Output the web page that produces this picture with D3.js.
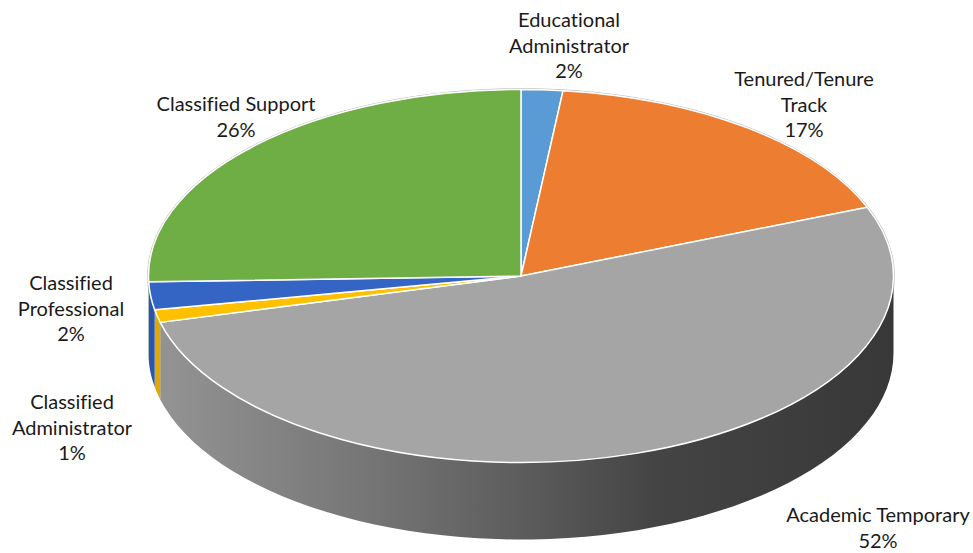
<!DOCTYPE html>
<html>
<head>
<meta charset="utf-8">
<script src="https://cdn.jsdelivr.net/npm/d3@7"></script>
<style>
  html, body { margin: 0; background: #fff; }
  text { font-family: Lato, "Open Sans", sans-serif; font-size: 20px; fill: #1a1a1a; font-variant-ligatures: none; }
</style>
</head>
<body>
<div id="chart"></div>
<script>
// slices, clockwise from 12 o'clock
const categories = ['Educational Administrator', 'Tenured/Tenure Track', 'Academic Temporary',
    'Classified Administrator', 'Classified Professional', 'Classified Support']
const values = [1.8, 17.2, 52, 1.1, 2.4, 25.5]
const percentLabels = ['2%', '17%', '52%', '1%', '2%', '26%']
const colors = ['#5b9bd5', '#ed7d31', '#a5a5a5', '#ffc000', '#3565c4', '#6fad45']
const wallColors = ['#4a85bc', '#c9651f', 'url(#wall-gray)', '#e0a800', '#2a55ad', '#5c9338']

const width = 973
const height = 553
const cx = 521
const cy = 276
const rx = 372.5
const ry = 186.5
const depth = 77

// label lines wrap like the original, anchors are in page pixels
const labelLines = [['Educational', 'Administrator'], ['Tenured/Tenure', 'Track'], ['Academic Temporary'],
    ['Classified', 'Administrator'], ['Classified', 'Professional'], ['Classified Support']]
const labelAnchors = [[569, 20], [804, 79], [878, 515], [72, 402], [71, 283], [236, 104]]
const lineHeight = 25.7

const svg = d3.select('#chart').append('svg').attr('width', width).attr('height', height)

// side of the pie goes from mid gray on the left to near black on the right
const grad = svg.append('defs').append('linearGradient').attr('id', 'wall-gray')
    .attr('gradientUnits', 'userSpaceOnUse')
    .attr('x1', cx - rx).attr('x2', cx + rx).attr('y1', 0).attr('y2', 0)
grad.selectAll('stop').data([[0, '#959595'], [0.3, '#757575'], [0.52, '#5a5a5a'], [0.68, '#444444'], [1, '#383838']])
    .enter().append('stop')
    .attr('offset', d => d[0]).attr('stop-color', d => d[1])

const slices = d3.pie().sort(null).value(d => d)(values)

const xPos = d3.scaleLinear().domain([-1, 1]).range([cx - rx, cx + rx])
const yPos = d3.scaleLinear().domain([-1, 1]).range([cy - ry, cy + ry])
const rim = (a, drop) => [xPos(Math.sin(a)), yPos(-Math.cos(a)) + drop]

// wall of one slice, only the part that faces the viewer
const wallPath = s => {
    const a0 = Math.max(s.startAngle, Math.PI / 2)
    const a1 = Math.min(s.endAngle, Math.PI * 1.5)
    if (a1 <= a0) return null
    const steps = d3.range(0, 61).map(i => a0 + (a1 - a0) * i / 60)
    const pts = steps.map(a => rim(a, 0)).concat(steps.slice().reverse().map(a => rim(a, depth)))
    return d3.line()(pts) + 'Z'
}

// faint outline round the whole shape
svg.append('ellipse').attr('cx', cx).attr('cy', cy).attr('rx', rx + 0.8).attr('ry', ry + 0.8)
    .attr('fill', 'none').attr('stroke', '#b8b8b8').attr('stroke-width', 1)

svg.append('g').selectAll('path').data(slices).enter().append('path')
    .attr('d', wallPath)
    .attr('fill', (d, i) => wallColors[i])

const arc = d3.arc().innerRadius(0).outerRadius(rx)
svg.append('g')
    .attr('transform', `translate(${cx},${cy}) scale(1,${ry / rx})`)
    .selectAll('path').data(slices).enter().append('path')
    .attr('d', arc)
    .attr('fill', (d, i) => colors[i])
    .attr('stroke', '#fff')
    .attr('stroke-width', 1.5)
    .attr('stroke-linejoin', 'round')
    .attr('vector-effect', 'non-scaling-stroke')

// data labels
const labels = svg.append('g').selectAll('text').data(categories).enter().append('text')
    .attr('text-anchor', 'middle')
    .attr('transform', (d, i) => `translate(${labelAnchors[i][0]},${labelAnchors[i][1]})`)
labels.selectAll('tspan')
    .data((d, i) => labelLines[i].concat(percentLabels[i]))
    .enter().append('tspan')
    .attr('x', 0)
    .attr('y', (d, i) => i * lineHeight)
    .attr('dy', '0.35em')
    .text(d => d)
</script>
</body>
</html>
